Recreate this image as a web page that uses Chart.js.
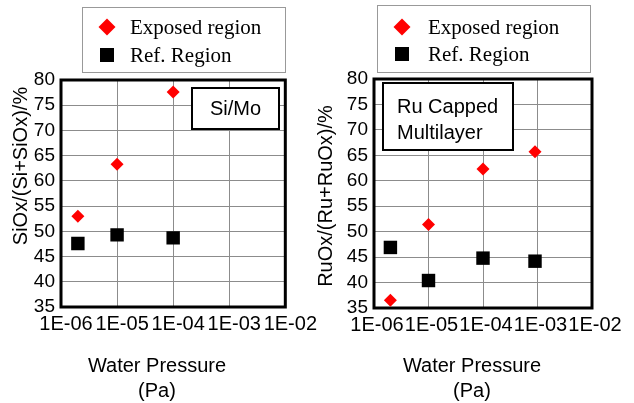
<!DOCTYPE html>
<html>
<head>
<meta charset="utf-8">
<script src="https://cdn.jsdelivr.net/npm/chart.js@4.4.1/dist/chart.umd.min.js"></script>
<style>
  html, body { margin: 0; padding: 0; background: #fff; }
  .panel { position: absolute; top: 0; width: 317px; height: 403px; }
  #leftPanel { left: 0; }
  #rightPanel { left: 317px; }
</style>
</head>
<body>
<div class="panel" id="leftPanel"><canvas id="siMoChart" width="317" height="403"></canvas></div>
<div class="panel" id="rightPanel"><canvas id="ruChart" width="317" height="403"></canvas></div>
<script>
// Shared axis values
const pressureTicks = [1e-6, 1e-5, 1e-4, 1e-3, 1e-2];
const pressureLabels = ['1E-06', '1E-05', '1E-04', '1E-03', '1E-02'];
const seriesNames = ['Exposed region', 'Ref. Region'];

// Si/Mo panel
const siMoPressure = [2e-6, 1e-5, 1e-4];
const siMoExposed = [53.0, 63.3, 77.6];
const siMoRef = [47.6, 49.3, 48.7];

// Ru capped multilayer panel
const ruPressure = [2e-6, 1e-5, 1e-4, 9e-4];
const ruExposed = [36.5, 51.4, 62.3, 65.7];
const ruRef = [46.9, 40.4, 44.8, 44.2];

const SANS = '"Liberation Sans", Arial, sans-serif';
const SERIF = '"Liberation Serif", "Times New Roman", serif';

function toPoints(xs, ys) {
    return xs.map((x, i) => ({ x: x, y: ys[i] }));
}

function drawMarker(ctx, style, x, y, r, color) {
    ctx.save();
    ctx.fillStyle = color;
    ctx.beginPath();
    if (style === 'rectRot') {
        ctx.moveTo(x - r, y);
        ctx.lineTo(x, y - r);
        ctx.lineTo(x + r, y);
        ctx.lineTo(x, y + r);
        ctx.closePath();
    } else {
        ctx.rect(x - r, y - r, 2 * r, 2 * r);
    }
    ctx.fill();
    ctx.restore();
}

// frame, titles, legend box and label box
const decorPlugin = {
    id: 'decor',
    beforeDatasetsDraw(chart) {
        const { ctx, chartArea: a } = chart;
        ctx.save();
        ctx.strokeStyle = '#000';
        ctx.lineWidth = 3;
        ctx.strokeRect(a.left, a.top, a.right - a.left, a.bottom - a.top);
        ctx.restore();
    },
    afterDraw(chart, args, opts) {
        const ctx = chart.ctx;
        ctx.save();

        // y title
        ctx.fillStyle = '#000';
        ctx.font = '20px ' + SANS;
        ctx.textAlign = 'center';
        ctx.textBaseline = 'middle';
        ctx.save();
        ctx.translate(opts.yTitlePos[0], opts.yTitlePos[1]);
        ctx.rotate(-Math.PI / 2);
        ctx.fillText(opts.yTitle, 0, 0);
        ctx.restore();

        // x title
        ctx.fillText('Water Pressure', opts.xTitleX, 366);
        ctx.fillText('(Pa)', opts.xTitleX, 391);

        // legend
        const lb = opts.legendBox;
        ctx.fillStyle = '#fff';
        ctx.fillRect(lb[0], lb[1], lb[2] - lb[0], lb[3] - lb[1]);
        ctx.strokeStyle = '#999';
        ctx.lineWidth = 1;
        ctx.strokeRect(lb[0] + 0.5, lb[1] + 0.5, lb[2] - lb[0], lb[3] - lb[1]);
        ctx.font = '21px ' + SERIF;
        ctx.textAlign = 'left';
        chart.data.datasets.forEach((ds, i) => {
            const y = opts.legendRows[i];
            const r = ds.pointStyle === 'rectRot' ? 8.5 : 7;
            drawMarker(ctx, ds.pointStyle, opts.legendMarkX, y, r, ds.backgroundColor);
            ctx.fillStyle = '#000';
            ctx.fillText(ds.label, opts.legendTextX, y + 1);
        });

        // sample label box
        const nb = opts.noteBox;
        ctx.fillStyle = '#fff';
        ctx.fillRect(nb[0], nb[1], nb[2] - nb[0], nb[3] - nb[1]);
        ctx.strokeStyle = '#000';
        ctx.lineWidth = 2;
        ctx.strokeRect(nb[0], nb[1], nb[2] - nb[0], nb[3] - nb[1]);
        ctx.fillStyle = '#000';
        ctx.font = '20px ' + SANS;
        ctx.textAlign = opts.noteAlign;
        opts.noteLines.forEach((t, i) => {
            ctx.fillText(t, opts.noteX, opts.noteRows[i]);
        });

        ctx.restore();
    }
};

function makeChart(canvasId, xs, exposed, ref, layout, decor) {
    const ctx = document.getElementById(canvasId).getContext('2d');
    return new Chart(ctx, {
        type: 'scatter',
        data: {
            datasets: [
                {
                    label: seriesNames[0],
                    data: toPoints(xs, exposed),
                    pointStyle: 'rectRot',
                    pointRadius: 6.5,
                    pointBorderWidth: 0,
                    backgroundColor: '#ff0000',
                    borderColor: '#ff0000'
                },
                {
                    label: seriesNames[1],
                    data: toPoints(xs, ref),
                    pointStyle: 'rect',
                    pointRadius: 9.5,
                    pointBorderWidth: 0,
                    backgroundColor: '#000000',
                    borderColor: '#000000'
                }
            ]
        },
        options: {
            responsive: false,
            animation: false,
            layout: {
                padding: { left: 0, top: layout.top, right: layout.right, bottom: 0 }
            },
            plugins: {
                legend: { display: false },
                tooltip: { enabled: false },
                decor: decor
            },
            scales: {
                x: {
                    type: 'logarithmic',
                    min: 1e-6,
                    max: 1e-2,
                    afterBuildTicks: (scale) => {
                        scale.ticks = pressureTicks.map(v => ({ value: v }));
                    },
                    afterFit: (scale) => { scale.height = layout.xHeight; },
                    ticks: {
                        autoSkip: false,
                        maxRotation: 0,
                        padding: 5,
                        labelOffset: layout.labelOffset,
                        color: '#000',
                        font: { family: SANS, size: 20 },
                        callback: (value, index) => pressureLabels[index]
                    },
                    grid: { color: '#8c8c8c', lineWidth: 1, drawTicks: false },
                    border: { display: false }
                },
                y: {
                    min: 35,
                    max: 80,
                    afterFit: (scale) => { scale.width = layout.yWidth; },
                    ticks: {
                        stepSize: 5,
                        autoSkip: false,
                        padding: 6,
                        color: '#000',
                        font: { family: SANS, size: 19 }
                    },
                    grid: { color: '#8c8c8c', lineWidth: 1, drawTicks: false },
                    border: { display: false }
                }
            }
        },
        plugins: [decorPlugin]
    });
}

makeChart('siMoChart', siMoPressure, siMoExposed, siMoRef,
    { top: 80, right: 30, xHeight: 96, yWidth: 61, labelOffset: 5 },
    {
        yTitle: 'SiOx/(Si+SiOx)/%',
        yTitlePos: [21, 166],
        xTitleX: 157,
        legendBox: [82, 7, 285, 72],
        legendMarkX: 107,
        legendRows: [27, 55],
        legendTextX: 130,
        noteBox: [192, 88, 279, 129],
        noteLines: ['Si/Mo'],
        noteAlign: 'center',
        noteX: 235.5,
        noteRows: [109]
    });

makeChart('ruChart', ruPressure, ruExposed, ruRef,
    { top: 79, right: 42, xHeight: 95, yWidth: 57, labelOffset: 3 },
    {
        yTitle: 'RuOx/(Ru+RuOx)/%',
        yTitlePos: [9, 196],
        xTitleX: 155,
        legendBox: [60, 5, 273, 72],
        legendMarkX: 85,
        legendRows: [27, 54],
        legendTextX: 111,
        noteBox: [66, 83, 196, 150],
        noteLines: ['Ru Capped', 'Multilayer'],
        noteAlign: 'left',
        noteX: 80,
        noteRows: [107, 133]
    });
</script>
</body>
</html>
